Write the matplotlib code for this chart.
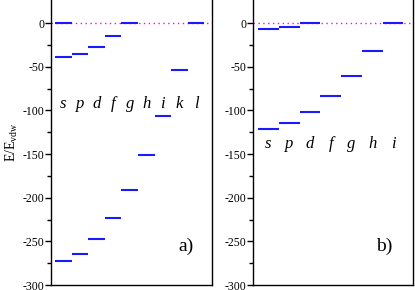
import matplotlib.pyplot as plt

plt.rcParams['font.family'] = ['Liberation Serif', 'DejaVu Serif']
plt.rcParams['mathtext.fontset'] = 'custom'
plt.rcParams['mathtext.rm'] = 'Liberation Serif'
plt.rcParams['mathtext.it'] = 'Liberation Serif:italic'
plt.rcParams['axes.unicode_minus'] = False

# panel a) levels per partial wave
labels_a = ['s', 'p', 'd', 'f', 'g', 'h', 'i', 'k', 'l']
levels_a = [
    [0, -39, -272],
    [-35, -264],
    [-27, -247.5],
    [-14.5, -223],
    [0, -191],
    [-151.5],
    [-106],
    [-54],
    [0],
]

# panel b) levels per partial wave
labels_b = ['s', 'p', 'd', 'f', 'g', 'h', 'i']
levels_b = [
    [-6.5, -121],
    [-4.2, -114.5],
    [0, -102.3],
    [-83.6],
    [-60],
    [-31.7],
    [0],
]

fig = plt.figure(figsize=(4.15, 2.9), dpi=100)
W, H = 415, 290
ax_a = fig.add_axes([51 / W, 1 - 285 / H, 161 / W, 285 / H])
ax_b = fig.add_axes([253 / W, 1 - 285 / H, 160 / W, 285 / H])


def draw_panel(ax, labels, levels, label_y, tag, tag_x):
    n = len(labels)
    ax.axhline(0, color='magenta', ls=(0, (1, 2.5)), lw=1.0, zorder=1)
    for i, vals in enumerate(levels):
        for v in vals:
            ax.hlines(v, i, i + 1, color='#1a1aff', lw=1.5, zorder=2)
        ax.text(i + 0.5, label_y, labels[i], ha='center', va='center',
                fontsize=12, style='italic')
    ax.set_xlim(-0.24, n + 0.46)
    ax.set_ylim(-300, 26.5)
    ax.set_yticks(range(-300, 1, 50))
    ax.set_yticks(range(-275, 1, 50), minor=True)
    ax.set_xticks([])
    ax.tick_params(axis='y', which='major', direction='out', length=4,
                   width=1, labelsize=8.5, pad=1)
    ax.tick_params(axis='y', which='minor', direction='out', length=3, width=1)
    ax.spines['top'].set_visible(False)
    for s in ['left', 'right', 'bottom']:
        ax.spines[s].set_linewidth(1.0)
    ax.text(tag_x, -256, tag, ha='center', va='center', fontsize=14)


draw_panel(ax_a, labels_a, levels_a, -93, 'a)', 7.9)
draw_panel(ax_b, labels_b, levels_b, -138, 'b)', 6.1)

fig.text(12 / W, 1 - 142 / H, r'E/E$_{\mathrm{vdw}}$', rotation=90,
         ha='center', va='center', fontsize=10)

fig.savefig('out.png', dpi=100)
